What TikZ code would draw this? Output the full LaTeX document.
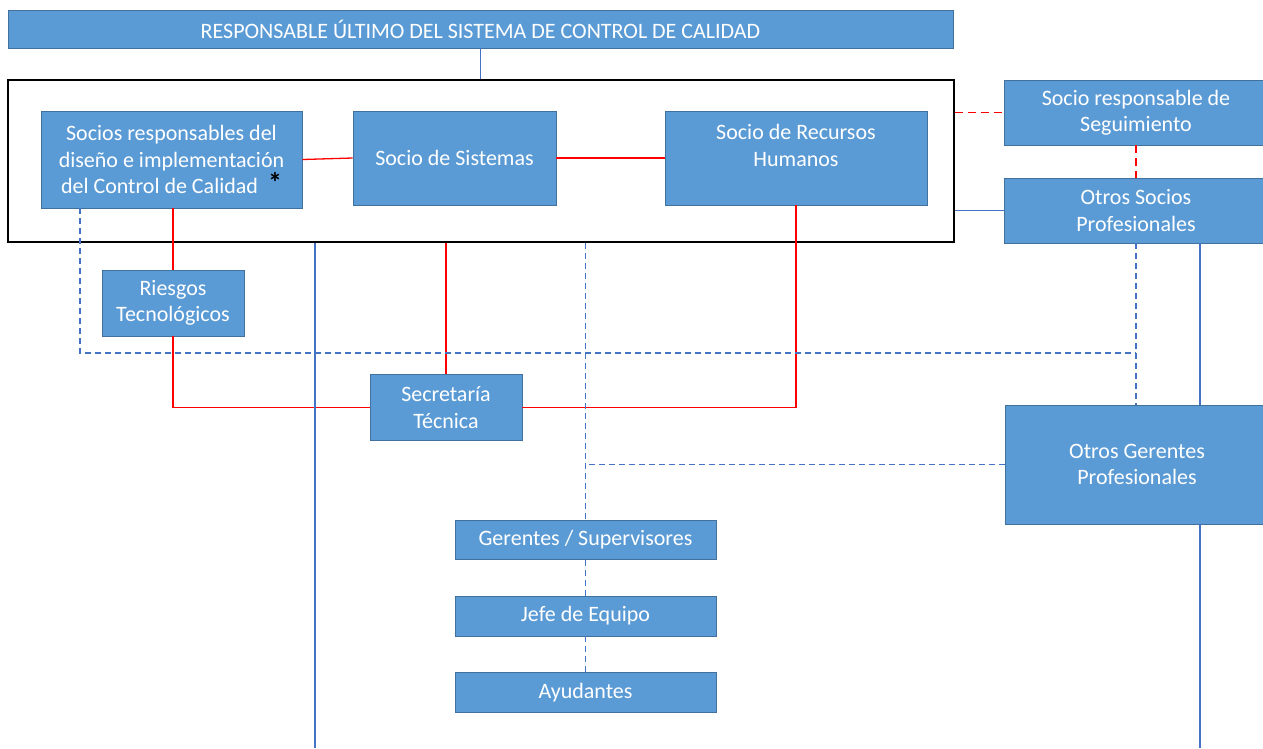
\documentclass[tikz,border=0pt]{standalone}
\usepackage{fontspec}
\setmainfont{Carlito}
\usetikzlibrary{calc}
\definecolor{boxfill}{HTML}{5B9BD5}
\definecolor{boxline}{HTML}{41719C}
\definecolor{linkblue}{HTML}{4472C4}
\definecolor{linkred}{HTML}{FF0000}
\tikzset{
  box/.style={rectangle, fill=boxfill, draw=boxline, line width=0.9pt, text=white,
    align=center, inner sep=0pt, font=\fontsize{22}{26.5}\selectfont},
  frame/.style={rectangle, draw=black, line width=1.5pt, inner sep=0pt},
  redline/.style={draw=linkred, line width=1.3pt},
  reddash/.style={draw=linkred, line width=1.3pt, dash pattern=on 8pt off 5pt},
  blueline/.style={draw=linkblue, line width=1.2pt},
  bluedash/.style={draw=linkblue, line width=1.3pt, dash pattern=on 6pt off 4pt},
}
\begin{document}
\begin{tikzpicture}[x=1pt,y=-1pt]
\useasboundingbox (0,0) rectangle (1263,748);
\clip (0,0) rectangle (1263,748);
% nodes
\node[box, minimum width=945pt, minimum height=38pt] (ti) at (480.5,29) {RESPONSABLE ÚLTIMO DEL SISTEMA DE CONTROL DE CALIDAD};
\node[frame, minimum width=946pt, minimum height=162pt] (fr) at (481,161) {};
\node[box, minimum width=261pt, minimum height=97pt] (sr) at (171.5,159.5) {Socios responsables del\\diseño e implementación\\del Control de Calidad~~\raisebox{1pt}{\textcolor{black}{\fontsize{28}{28}\selectfont\bfseries *}}};
\node[box, minimum width=203pt, minimum height=94pt] (ss) at (454.5,158) {Socio de Sistemas};
\node[box, minimum width=262pt, minimum height=94pt] (rh) at (796,158) {Socio de Recursos\\Humanos\\[-9pt]\strut};
\node[box, minimum width=264pt, minimum height=65pt] (sg) at (1136,112.5) {Socio responsable de\\Seguimiento};
\node[box, minimum width=264pt, minimum height=65pt] (os) at (1136,210.5) {Otros Socios\\Profesionales};
\node[box, minimum width=142pt, minimum height=66pt] (ri) at (173,303) {Riesgos\\Tecnológicos};
\node[box, minimum width=152pt, minimum height=66pt] (st) at (446,407.5) {Secretaría\\Técnica};
\node[box, minimum width=264pt, minimum height=119pt] (og) at (1137,464.5) {Otros Gerentes\\Profesionales};
\node[box, minimum width=261pt, minimum height=39pt] (ge) at (585.5,540) {Gerentes / Supervisores};
\node[box, minimum width=261pt, minimum height=40pt] (je) at (585.5,616) {Jefe de Equipo};
\node[box, minimum width=261pt, minimum height=40pt] (ay) at (585.5,692.5) {Ayudantes};
% helper coordinates
\coordinate (xl) at (80,0);
\coordinate (xb) at (315,0);
\coordinate (xd) at (1136,0);
\coordinate (xs) at (1200,0);
\coordinate (bl) at (315,748);
\coordinate (br) at (1200,748);
\coordinate (jn) at (1136,353);
% connectors
\draw[blueline] (ti.south) -- (ti.south |- fr.north);
\draw[redline] (sr.east) -- (ss.west);
\draw[redline] (ss.east) -- (rh.west);
\draw[reddash] (fr.east |- sg.west) -- (sg.west);
\draw[reddash] (sg.south -| xd) -- (os.north -| xd);
\draw[blueline] (fr.east |- os.west) -- (os.west);
\draw[redline] (ri.north |- sr.south) -- (ri.north);
\draw[redline] (ri.south) |- (st.west);
\draw[redline] (st.north |- fr.south) -- (st.north);
\draw[redline] (rh.south) |- (st.east);
\draw[blueline] (fr.south -| xb) -- (bl);
\draw[bluedash] (sr.south -| xl) |- (jn);
\draw[bluedash] (os.south -| xd) -- (og.north -| xd);
\draw[bluedash] (ge.north |- fr.south) -- (ge.north);
\draw[bluedash] (og.west) -- (og.west -| ge.north);
\draw[bluedash] (ge.south) -- (je.north);
\draw[bluedash] (je.south) -- (ay.north);
\draw[blueline] (os.south -| xs) -- (og.north -| xs);
\draw[blueline] (og.south -| xs) -- (br);
\end{tikzpicture}
\end{document}
